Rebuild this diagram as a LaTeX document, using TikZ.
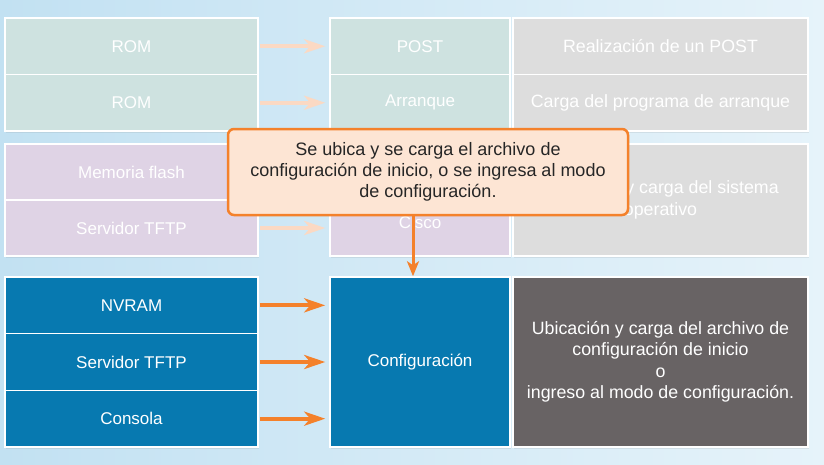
\documentclass[tikz,border=0pt]{standalone}
\usepackage{fontspec}
\setmainfont{Liberation Sans}
\usetikzlibrary{arrows.meta,shadows}
\definecolor{fondoA}{HTML}{C2E1F2}
\definecolor{fondoB}{HTML}{E6F3FA}
\definecolor{verde}{HTML}{CEE2E0}
\definecolor{lila}{HTML}{DFD3E5}
\definecolor{gris}{HTML}{DDDDDD}
\definecolor{azul}{HTML}{0779B0}
\definecolor{oscuro}{HTML}{686364}
\definecolor{naranja}{HTML}{F4812B}
\definecolor{tenue}{HTML}{FBD9C3}
\definecolor{crema}{HTML}{FDE5D4}
\tikzset{
	caja/.style={draw=white, line width=1.5pt, inner sep=0pt, text=white, align=center,
		font=\fontsize{17}{21.5}\selectfont,
		drop shadow={opacity=.15, shadow xshift=1pt, shadow yshift=-1.5pt}},
	izq/.style={caja, minimum width=253pt},
	med/.style={caja, minimum width=180pt},
	der/.style={caja, minimum width=295pt, font=\fontsize{17.8}{21.5}\selectfont},
	flecha/.style={line width=4pt, shorten <=1pt, shorten >=4pt,
		-{Stealth[length=21pt, width=14pt, inset=6pt]}},
}

\begin{document}
\begin{tikzpicture}[x=1pt, y=-1pt]
\useasboundingbox (0,0) rectangle (824,464);
\shade[left color=fondoA, right color=fondoB] (0,0) rectangle (824,464);
% POST y arranque
\node[izq, fill=verde, minimum height=56.5pt] (rom1) at (131.5,46.25) {ROM};
\node[izq, fill=verde, minimum height=56.5pt] (rom2) at (131.5,102.75) {ROM};
\node[med, fill=verde, minimum height=56.5pt] (post) at (420,46.25) {POST};
\node[med, fill=verde, minimum height=56.5pt] (arranque) at (420,102.75) {Arranque};
\node[der, fill=gris, minimum height=56.5pt] (dpost) at (660.5,46.25) {Realización de un POST};
\node[der, fill=gris, minimum height=56.5pt] (darranque) at (660.5,102.75) {Carga del programa de arranque};
\draw[flecha, tenue] (rom1) -- (post);
\draw[flecha, tenue] (rom2) -- (arranque);
% sistema operativo
\node[izq, fill=lila, minimum height=56pt] (flash) at (131.5,172) {Memoria flash};
\node[izq, fill=lila, minimum height=56pt] (tftp1) at (131.5,228) {Servidor TFTP};
\node[med, fill=lila, minimum height=112pt] (ios) at (420,200) {\strut\\\strut\\Cisco};
\node[der, fill=gris, minimum height=112pt] (dios) at (660.5,200) {Ubicación y carga del sistema\\operativo};
\draw[flecha, tenue] (flash) -- (flash -| ios.west);
\draw[flecha, tenue] (tftp1) -- (tftp1 -| ios.west);
% configuracion
\node[izq, fill=azul, minimum height=56.67pt] (nvram) at (131.5,305.33) {NVRAM};
\node[izq, fill=azul, minimum height=56.67pt] (tftp2) at (131.5,362) {Servidor TFTP};
\node[izq, fill=azul, minimum height=56.67pt] (consola) at (131.5,418.67) {Consola};
\node[med, fill=azul, minimum height=170pt] (config) at (420,362) {Configuración};
\node[der, fill=oscuro, minimum height=170pt] (dconfig) at (660.5,362)
	{Ubicación y carga del archivo de\\configuración de inicio\\o\\ingreso al modo de configuración.};
\draw[flecha, naranja] (nvram) -- (nvram -| config.west);
\draw[flecha, naranja] (tftp2) -- (config);
\draw[flecha, naranja] (consola) -- (consola -| config.west);
% nota
\node[draw=naranja, fill=crema, line width=2.5pt, rounded corners=6pt, minimum width=400pt,
	minimum height=86pt, inner sep=0pt, align=center, text=black!85,
	font=\fontsize{18}{21}\selectfont] (nota) at (428,172)
	{Se ubica y se carga el archivo de\\configuración de inicio, o se ingresa al modo\\de configuración.};
\draw[naranja, line width=3pt, -{Stealth[length=15pt, width=12pt, inset=4pt]}]
	([xshift=-15pt]nota.south) -- ([xshift=-7pt]config.north);
\end{tikzpicture}
\end{document}
